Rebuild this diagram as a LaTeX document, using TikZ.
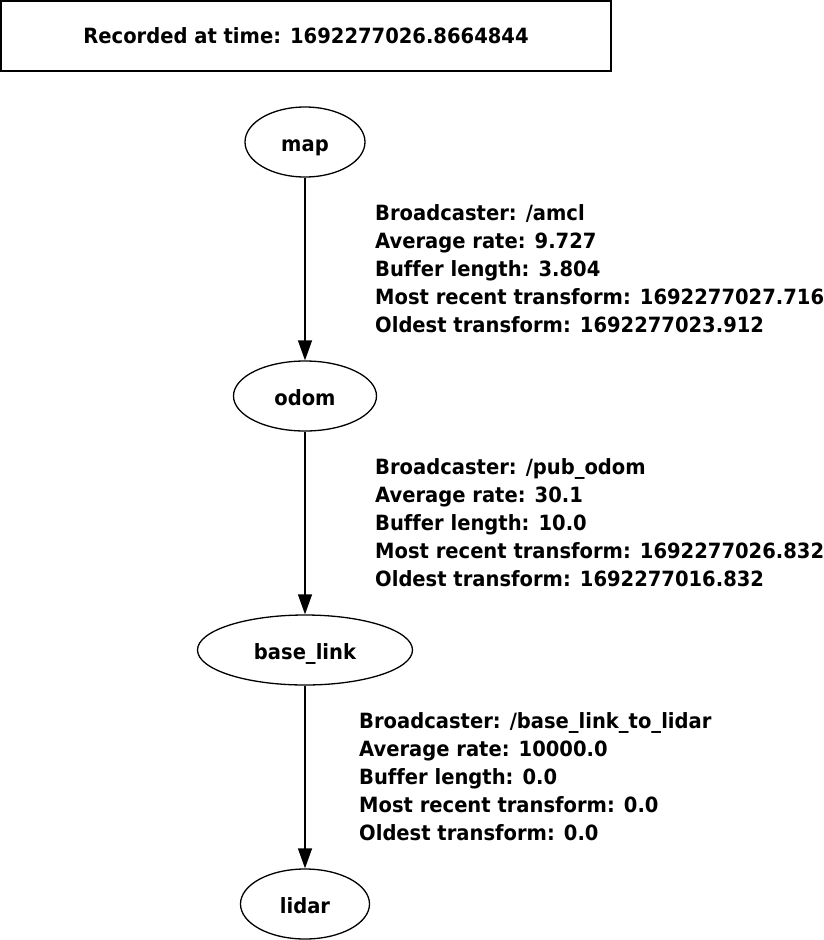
\documentclass[tikz,border=0pt]{standalone}
\usepackage{fontspec}
\setmainfont{DejaVu Sans}[Ligatures={NoCommon},FakeStretch=0.93]
\usetikzlibrary{arrows.meta,shapes.geometric}
\begin{document}
\begin{tikzpicture}[x=1pt,y=-1pt,
  frame/.style={draw, line width=1.3pt},
  tfnode/.style={draw, ellipse, line width=1.3pt, minimum height=70pt, inner sep=0pt, text height=18pt, text depth=0pt, font=\bfseries\fontsize{21}{22}\selectfont},
  tfedge/.style={line width=1.3pt, -{Triangle[length=20pt,width=14pt]}},
  elabel/.style={anchor=west, align=left, inner sep=0pt, font=\bfseries\fontsize{21}{28}\selectfont}]
\useasboundingbox (0,0) rectangle (823,940);
\node[frame, minimum width=610pt, minimum height=70pt, inner sep=0pt, font=\bfseries\fontsize{21}{24}\selectfont] (hdr) at (306,36) {Recorded at time: 1692277026.8664844};
\node[tfnode, minimum width=120pt] (map) at (305,142) {map};
\node[tfnode, minimum width=143pt] (odom) at (305,396) {odom};
\node[tfnode, minimum width=215pt] (base) at (305,650) {base\_link};
\node[tfnode, minimum width=129pt] (lidar) at (305,904) {lidar};
\draw[tfedge] (map) -- (odom);
\draw[tfedge] (odom) -- (base);
\draw[tfedge] (base) -- (lidar);
\node[elabel] (l1) at (375,269) {Broadcaster: /amcl\\Average rate: 9.727\\Buffer length: 3.804\\Most recent transform: 1692277027.716\\Oldest transform: 1692277023.912};
\node[elabel] (l2) at (375,523) {Broadcaster: /pub\_odom\\Average rate: 30.1\\Buffer length: 10.0\\Most recent transform: 1692277026.832\\Oldest transform: 1692277016.832};
\node[elabel] (l3) at (359,777) {Broadcaster: /base\_link\_to\_lidar\\Average rate: 10000.0\\Buffer length: 0.0\\Most recent transform: 0.0\\Oldest transform: 0.0};
\end{tikzpicture}
\end{document}
